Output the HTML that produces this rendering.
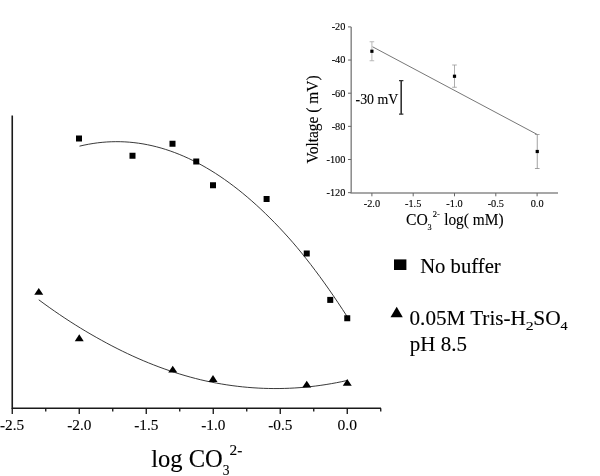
<!DOCTYPE html><html><head><meta charset="utf-8"><title>chart</title><style>html,body{margin:0;padding:0;background:#fff}body{width:600px;height:476px;position:relative;overflow:hidden}</style></head><body>
<svg width="600" height="476" viewBox="0 0 600 476" style="position:absolute;left:0;top:0">
<rect width="600" height="476" fill="#fff"/>
<path d="M12.25,115.5 V408.2 H381" fill="none" stroke="#1a1a1a" stroke-width="1.6"/>
<path d="M12.25,408.2 V414 M79.25,408.2 V414 M146.25,408.2 V414 M213.25,408.2 V414 M280.25,408.2 V414 M347.25,408.2 V414 M45.75,408.2 V411.4 M112.75,408.2 V411.4 M179.75,408.2 V411.4 M246.75,408.2 V411.4 M313.75,408.2 V411.4 M380.75,408.2 V411.4" fill="none" stroke="#111" stroke-width="1.3"/>
<path d="M79.50,146.17 L84.03,145.13 L88.57,144.24 L93.10,143.47 L97.64,142.84 L102.17,142.35 L106.70,141.98 L111.24,141.75 L115.77,141.66 L120.31,141.70 L124.84,141.87 L129.37,142.18 L133.91,142.61 L138.44,143.19 L142.97,143.89 L147.51,144.74 L152.04,145.71 L156.58,146.82 L161.11,148.06 L165.64,149.43 L170.18,150.94 L174.71,152.59 L179.25,154.36 L183.78,156.27 L188.31,158.31 L192.85,160.49 L197.38,162.80 L201.92,165.25 L206.45,167.83 L210.98,170.54 L215.52,173.38 L220.05,176.36 L224.58,179.48 L229.12,182.72 L233.65,186.10 L238.19,189.62 L242.72,193.26 L247.25,197.05 L251.79,200.96 L256.32,205.01 L260.86,209.19 L265.39,213.51 L269.92,217.96 L274.46,222.54 L278.99,227.26 L283.53,232.11 L288.06,237.09 L292.59,242.23 L297.13,247.56 L301.66,253.06 L306.19,258.72 L310.73,264.53 L315.26,270.49 L319.80,276.60 L324.33,282.86 L328.86,289.26 L333.40,295.82 L337.93,302.52 L342.47,309.37 L347.00,316.36" fill="none" stroke="#222" stroke-width="0.9"/>
<path d="M38.75,299.79 L43.97,303.63 L49.20,307.38 L54.42,311.05 L59.65,314.64 L64.87,318.13 L70.10,321.55 L75.32,324.87 L80.55,328.11 L85.77,331.27 L91.00,334.34 L96.22,337.32 L101.44,340.23 L106.67,343.08 L111.89,345.85 L117.12,348.53 L122.34,351.13 L127.57,353.64 L132.79,356.07 L138.02,358.41 L143.24,360.66 L148.47,362.83 L153.69,364.91 L158.92,366.91 L164.14,368.82 L169.36,370.64 L174.59,372.38 L179.81,374.04 L185.04,375.60 L190.26,377.09 L195.49,378.48 L200.71,379.79 L205.94,380.97 L211.16,382.07 L216.39,383.08 L221.61,384.01 L226.83,384.85 L232.06,385.60 L237.28,386.27 L242.51,386.85 L247.73,387.35 L252.96,387.76 L258.18,388.09 L263.41,388.33 L268.63,388.48 L273.86,388.55 L279.08,388.54 L284.31,388.43 L289.53,388.24 L294.75,387.97 L299.98,387.61 L305.20,387.17 L310.43,386.63 L315.65,386.02 L320.88,385.31 L326.10,384.53 L331.33,383.65 L336.55,382.69 L341.78,381.65 L347.00,380.52" fill="none" stroke="#222" stroke-width="0.9"/>
<rect x="76.00" y="135.50" width="6" height="6" fill="#000"/>
<rect x="129.50" y="152.75" width="6" height="6" fill="#000"/>
<rect x="169.50" y="140.75" width="6" height="6" fill="#000"/>
<rect x="193.25" y="158.50" width="6" height="6" fill="#000"/>
<rect x="210.00" y="182.25" width="6" height="6" fill="#000"/>
<rect x="263.60" y="196.00" width="6" height="6" fill="#000"/>
<rect x="303.75" y="250.50" width="6" height="6" fill="#000"/>
<rect x="327.25" y="296.90" width="6" height="6" fill="#000"/>
<rect x="344.25" y="315.25" width="6" height="6" fill="#000"/>
<path d="M38.75,288.00 L43.25,294.75 H34.25 Z" fill="#000"/>
<path d="M79.25,334.25 L83.75,341.25 H74.75 Z" fill="#000"/>
<path d="M172.75,365.75 L177.25,372.50 H168.25 Z" fill="#000"/>
<path d="M213.00,375.00 L217.50,382.00 H208.50 Z" fill="#000"/>
<path d="M306.75,380.75 L311.25,387.50 H302.25 Z" fill="#000"/>
<path d="M347.25,379.00 L351.75,385.75 H342.75 Z" fill="#000"/>
<g font-family="Liberation Serif, serif" font-size="15" fill="#000" stroke="#000" stroke-width="0.12" text-anchor="middle">
<text transform="translate(12.00,429.7) scale(1.02,1)">-2.5</text>
<text transform="translate(79.25,429.7) scale(1.02,1)">-2.0</text>
<text transform="translate(146.25,429.7) scale(1.02,1)">-1.5</text>
<text transform="translate(213.25,429.7) scale(1.02,1)">-1.0</text>
<text transform="translate(280.25,429.7) scale(1.02,1)">-0.5</text>
<text transform="translate(347.25,429.7) scale(1.04,1)">0.0</text>
</g>
<g font-family="Liberation Serif, serif" fill="#000" stroke="#000" stroke-width="0.12">
<text transform="translate(151.27,467.00) scale(1.0141,1)" font-size="24.2">log CO</text>
<text transform="translate(222.67,475.40) scale(0.9651,1)" font-size="14">3</text>
<text transform="translate(229.62,454.70) scale(1.0915,1)" font-size="14">2-</text>
</g>
<rect x="394" y="259.4" width="12.4" height="10.6" fill="#000"/>
<path d="M396.7,306.7 L402.8,317.2 H390.5 Z" fill="#000"/>
<g font-family="Liberation Serif, serif" fill="#000" stroke="#000" stroke-width="0.12">
<text transform="translate(420.18,273.00) scale(1.0031,1)" font-size="20.6">No buffer</text>
<text transform="translate(409.54,324.70) scale(1.0259,1)" font-size="20.6">0.05M Tris-H</text>
<text transform="translate(525.80,329.80) scale(1.1764,1)" font-size="13.5">2</text>
<text transform="translate(533.36,324.70) scale(1.0398,1)" font-size="20.6">SO</text>
<text transform="translate(560.58,329.80) scale(1.0588,1)" font-size="13.5">4</text>
<text transform="translate(409.87,350.60) scale(1.0179,1)" font-size="20.6">pH 8.5</text>
</g>
<path d="M351.2,26.9 V193.0 H558" fill="none" stroke="#8a8a8a" stroke-width="1.5"/>
<path d="M348,26.90 H351.2 M348,60.05 H351.2 M348,93.20 H351.2 M348,126.35 H351.2 M348,159.50 H351.2 M348,192.65 H351.2 M371.90,193.0 V196.3 M413.20,193.0 V196.3 M454.50,193.0 V196.3 M495.80,193.0 V196.3 M537.10,193.0 V196.3" fill="none" stroke="#666" stroke-width="1"/>
<g font-family="Liberation Serif, serif" font-size="10.3" fill="#000" stroke="#000" stroke-width="0.12" text-anchor="end">
<text x="345.4" y="30.20">-20</text>
<text x="345.4" y="63.35">-40</text>
<text x="345.4" y="96.50">-60</text>
<text x="345.4" y="129.65">-80</text>
<text x="345.4" y="162.80">-100</text>
<text x="345.4" y="195.95">-120</text>
</g>
<g font-family="Liberation Serif, serif" font-size="10.3" fill="#000" stroke="#000" stroke-width="0.12" text-anchor="middle">
<text x="371.90" y="206.7">-2.0</text>
<text x="413.20" y="206.7">-1.5</text>
<text x="454.50" y="206.7">-1.0</text>
<text x="495.80" y="206.7">-0.5</text>
<text x="537.10" y="206.7">0.0</text>
</g>
<path d="M372.5,46.75 L537.25,134.5" fill="none" stroke="#4a4a4a" stroke-width="0.75"/>
<path d="M371.9,41.75 V60.75 M369.59999999999997,41.75 H374.2 M369.59999999999997,60.75 H374.2" fill="none" stroke="#a8a8a8" stroke-width="0.8"/>
<path d="M454.5,65 V87.25 M452.2,65 H456.8 M452.2,87.25 H456.8" fill="none" stroke="#999" stroke-width="0.8"/>
<path d="M537.25,134.5 V168.5 M534.95,134.5 H539.55 M534.95,168.5 H539.55" fill="none" stroke="#8a8a8a" stroke-width="0.8"/>
<rect x="370.30" y="49.65" width="3.2" height="3.2" fill="#000"/>
<rect x="452.90" y="74.65" width="3.2" height="3.2" fill="#000"/>
<rect x="535.65" y="149.90" width="3.2" height="3.2" fill="#000"/>
<path d="M401.2,80.5 V114.3" fill="none" stroke="#333" stroke-width="1.6"/>
<path d="M399,80.6 H403.4 M399,114.2 H403.4" fill="none" stroke="#333" stroke-width="1.2"/>
<g font-family="Liberation Serif, serif" fill="#000" stroke="#000" stroke-width="0.12">
<text transform="translate(355.57,104.00) scale(0.8953,1)" font-size="15.5">-30 mV</text>
<text transform="translate(317.90,163.50) rotate(-90) scale(0.9723,1)" font-size="15.9">Voltage ( mV)</text>
<text transform="translate(406.01,224.70) scale(0.9777,1)" font-size="16">CO</text>
<text transform="translate(427.61,230.40) scale(0.9760,1)" font-size="8.5">3</text>
<text transform="translate(432.73,217.40) scale(1.1320,1)" font-size="7.5">2-</text>
<text transform="translate(444.16,224.70) scale(0.9615,1)" font-size="16">log( mM)</text>
</g>
</svg>
</body></html>
